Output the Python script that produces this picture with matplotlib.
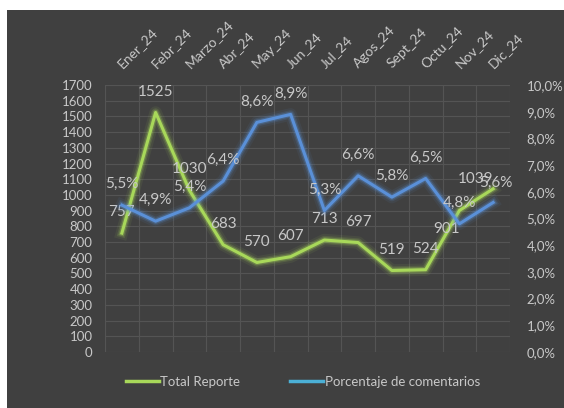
import matplotlib.pyplot as plt
import matplotlib.patheffects as pe
from matplotlib.patches import Rectangle
from matplotlib.lines import Line2D

meses = ["Ener_24", "Febr_24", "Marzo_24", "Abr_24", "May_24", "Jun_24",
         "Jul_24", "Agos_24", "Sept_24", "Octu_24", "Nov_24", "Dic_24"]
total_reporte = [757, 1525, 1030, 683, 570, 607, 713, 697, 519, 524, 901, 1039]
porcentaje = [5.5, 4.9, 5.4, 6.4, 8.6, 8.9, 5.3, 6.6, 5.8, 6.5, 4.8, 5.6]

VERDE = "#a8d85a"
AZUL = "#5a90d8"
GRIS_TXT = "#c8c8c8"
FONDO = "#404040"

plt.rcParams['font.family'] = ['Lato', 'DejaVu Sans']

fig = plt.figure(figsize=(5.64, 4.08), dpi=100)
fig.patch.set_facecolor(FONDO)
# white margins around the dark panel
fig.patches.append(Rectangle((0, 1 - 10 / 408), 1, 10 / 408, transform=fig.transFigure,
                             facecolor="white", edgecolor="none"))
fig.patches.append(Rectangle((0, 0), 7 / 564, 1, transform=fig.transFigure,
                             facecolor="white", edgecolor="none"))

ax = fig.add_axes([105 / 564, 1 - 352 / 408, 405 / 564, 267 / 408])
ax.set_facecolor("none")
ax2 = ax.twinx()

x = list(range(len(meses)))

def glow(c):
    return [pe.Stroke(linewidth=9, foreground=c, alpha=0.08),
            pe.Stroke(linewidth=6, foreground=c, alpha=0.15),
            pe.Stroke(linewidth=4, foreground=c, alpha=0.3),
            pe.Normal()]

ax.plot(x, total_reporte, color=VERDE, lw=2.2, path_effects=glow(VERDE), zorder=3)
ax2.plot(x, porcentaje, color=AZUL, lw=2.2, path_effects=glow(AZUL), zorder=3)

ax.set_xlim(-0.5, len(meses) - 0.5)
ax.set_ylim(0, 1700)
ax.set_yticks(range(0, 1701, 100))
ax2.set_ylim(0, 10)
ax2.set_yticks(range(0, 11))
ax2.set_yticklabels([f"{v},0%" for v in range(0, 11)])

# grid
for v in range(0, 1701, 100):
    ax.axhline(v, color="#545454", lw=0.8, zorder=1)
for i in range(len(meses) + 1):
    ax.axvline(i - 0.5, color="#545454", lw=0.8, zorder=1)

# month labels on top, rotated
ax.set_xticks(x)
ax.set_xticklabels([])
ax.tick_params(axis="x", length=0)
for xi, m in zip(x, meses):
    ax.annotate(m, (xi, 1), xycoords=("data", "axes fraction"), xytext=(1.5, 11),
                textcoords="offset points", rotation=45, rotation_mode="anchor",
                ha="left", va="bottom", fontsize=10, color=GRIS_TXT,
                annotation_clip=False)

ax.tick_params(axis="y", length=0, pad=9, labelsize=9.5, labelcolor=GRIS_TXT)
ax2.tick_params(axis="y", length=0, pad=12, labelsize=9.5, labelcolor=GRIS_TXT)
for a in (ax, ax2):
    for s in a.spines.values():
        s.set_visible(False)

# label offsets (points); a few labels sit off the default spot
off_total = {10: (-9, -13), 11: (-13, 7)}
off_pct = {11: (2, 14)}
for xi, v in zip(x, total_reporte):
    ax.annotate(str(v), (xi, v), xytext=off_total.get(xi, (0, 15)), textcoords="offset points",
                ha="center", va="center", fontsize=11, color=GRIS_TXT, zorder=5)
for xi, v in zip(x, porcentaje):
    ax2.annotate(f"{v:.1f}%".replace(".", ","), (xi, v), xytext=off_pct.get(xi, (0, 15)),
                 textcoords="offset points", ha="center", va="center",
                 fontsize=11, color=GRIS_TXT, zorder=5)

handles = [Line2D([], [], color=VERDE, lw=2.5), Line2D([], [], color="#4bb0d6", lw=2.5)]
fig.legend(handles, ["Total Reporte", "Porcentaje de comentarios"], loc="center",
           bbox_to_anchor=(0.537, 1 - 382 / 408), ncol=2, frameon=False,
           handlelength=2.5, handletextpad=0.1, columnspacing=3.8,
           fontsize=9.5, labelcolor=GRIS_TXT)

fig.savefig("out.png", dpi=100, facecolor=fig.get_facecolor())
